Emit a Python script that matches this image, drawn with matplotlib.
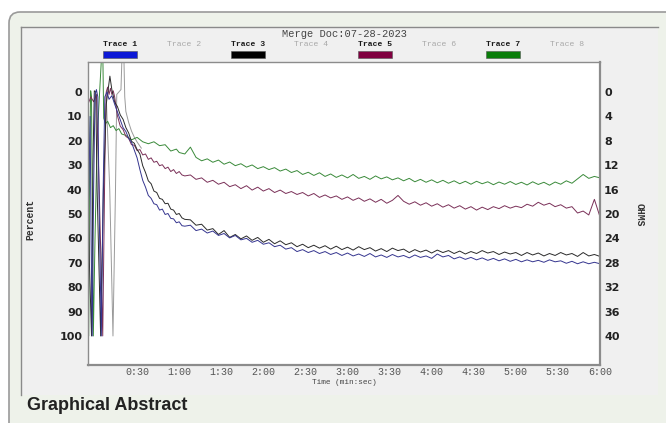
import matplotlib
matplotlib.use("Agg")
import matplotlib.pyplot as plt
from matplotlib.patches import FancyBboxPatch, Rectangle

# ---------------- data (time in seconds, value in Percent) ----------------
late_t = list(range(64, 361, 4))

t_trace1 = [-5, -3.5, -2.8, -2, -1, 0, 1, 2, 3, 4.5, 5.8, 7, 8.5, 10, 12] + list(range(14, 63, 2)) + late_t
v_trace1 = [60, 10, 60, 100, 40, 1, -1, 2, 50, 100, 40, 2, 0, 3, 1.5,
            5.0, 8.2, 11.4, 14.6, 16.2, 19.0, 20.6, 23.8, 27.0, 31.8, 36.2, 39.0, 42.4,
            43.6, 45.8, 46.2, 48.4, 48.0, 50.2, 49.8, 51.8, 52.0, 53.6, 53.2, 54.8,
            55.0, 54.6, 56.8, 56.2, 57.8, 57.0, 58.8, 58.0, 59.8, 58.8,
            60.6, 60.0, 61.6, 60.8, 62.4, 61.8, 63.4, 62.8, 64.4, 63.8,
            65.4, 64.6, 65.8, 65.0, 66.2, 65.4, 66.6, 65.8, 67.0, 66.0,
            67.2, 66.4, 67.4, 66.2, 67.6, 66.8, 67.8, 66.6, 67.6, 67.0,
            68.0, 66.8, 67.8, 67.2, 68.2, 66.4, 67.6, 67.0, 68.4, 67.6,
            68.6, 67.8, 68.8, 68.0, 69.0, 68.2, 69.2, 68.4, 69.4, 68.6,
            69.6, 68.8, 69.6, 69.0, 69.8, 68.8, 69.6, 69.2, 70.2, 69.4,
            70.4, 69.6, 70.4, 69.8, 70.4]

t_trace3 = [-5, -4, -2.5, -1.5, -0.5, 0.5, 1.5, 4, 6, 8, 10.6, 12] + list(range(14, 63, 2)) + late_t
v_trace3 = [30, 70, 100, 30, -0.5, 0, 40, 100, 40, 5, -6.5, -1,
            4.2, 6.0, 9.4, 11.2, 14.6, 16.8, 20.2, 21.0, 23.6, 25.4, 30.2, 33.0, 36.4,
            37.6, 40.6, 41.2, 43.6, 44.0, 45.8, 45.6, 48.0, 48.4, 50.2, 49.8, 51.6,
            52.2, 52.4, 54.6, 54.2, 56.6, 56.0, 58.4, 56.8, 59.6, 58.4,
            60.2, 59.0, 60.8, 59.6, 61.6, 60.4, 62.2, 61.0, 62.6, 61.8,
            63.4, 62.4, 63.8, 62.8, 64.0, 63.0, 64.4, 63.2, 64.6, 63.6,
            64.8, 63.4, 64.6, 63.8, 65.2, 64.2, 65.4, 64.0, 65.0, 64.4,
            65.8, 64.6, 65.6, 64.8, 66.0, 64.8, 65.8, 65.0, 66.2, 65.2,
            66.4, 65.4, 66.2, 65.0, 66.0, 65.4, 66.6, 65.6, 66.4, 65.8,
            67.0, 65.8, 66.8, 66.0, 67.2, 66.2, 67.0, 65.8, 66.8, 66.2,
            67.4, 65.8, 67.2, 66.6, 67.4]

t_trace5 = [-5, -3, -1, 1, 3, 5.5, 7, 8, 9, 10, 11, 12, 13] + list(range(14, 63, 2)) + late_t
v_trace5 = [5, 2, 4, 1, 40, 100, 30, 0, -2, 1, -1.5, 1, -0.5,
            2.0, 9.8, 14.0, 15.4, 18.2, 19.0, 21.6, 21.8, 24.0, 23.6, 25.8, 25.4, 27.6,
            27.0, 28.8, 28.4, 30.2, 29.8, 31.4, 30.8, 32.6, 31.8, 33.4, 32.6, 34.0,
            34.4, 34.0, 35.8, 35.2, 37.0, 36.2, 37.8, 37.0, 38.8, 38.0,
            39.6, 38.4, 40.2, 39.0, 40.6, 39.6, 41.2, 40.2, 41.6, 40.8,
            42.0, 41.2, 42.6, 41.6, 43.2, 42.2, 43.4, 42.6, 44.0, 43.0,
            44.4, 43.4, 44.8, 43.8, 45.2, 44.0, 45.6, 44.4, 42.4, 44.8,
            46.0, 45.0, 46.4, 45.4, 46.8, 45.8, 47.2, 46.2, 47.6, 46.6,
            48.0, 47.0, 48.4, 47.2, 48.2, 47.0, 47.8, 46.6, 47.6, 46.8,
            47.4, 46.0, 46.8, 45.2, 46.4, 45.6, 47.0, 46.2, 47.6, 47.0,
            49.6, 48.8, 50.4, 44.0, 51.2]

t_trace7 = [-5, -4.5, -3.8, -3.1, -2.5, -1.9, -1.2, 0, 1.5, 3, 4.6, 5.6, 6.2, 7.5, 9, 11,
            13, 15, 17, 19, 22, 26, 30, 34, 38, 42, 46, 50, 54, 58, 60] + late_t
v_trace7 = [60, 100, 25, -0.5, 2, 50, 100, 60, 20, 3, -14, -14, 10.7, 13, 12, 14.6,
            13.8, 15.8, 15.0, 17.2, 17.8, 19.6, 18.6, 20.4, 21.2, 20.4, 22.0, 21.6, 24.2, 23.4, 24.8,
            25.4, 22.6, 26.8, 28.2, 27.4, 28.8, 27.9, 29.6, 28.7, 30.2,
            29.4, 30.8, 29.9, 31.4, 30.6, 31.8, 31.0, 32.4, 31.6, 33.0,
            32.2, 33.8, 32.9, 34.2, 33.1, 34.6, 33.6, 35.0, 34.0, 35.2,
            33.8, 35.4, 34.6, 35.8, 34.4, 35.6, 34.8, 36.0, 35.2, 36.4,
            35.4, 36.8, 35.8, 37.0, 36.0, 37.2, 36.2, 37.4, 36.4, 37.6,
            36.6, 37.8, 36.6, 37.6, 36.8, 38.0, 36.9, 37.8, 36.7, 37.9,
            37.0, 38.1, 36.8, 37.9, 37.0, 38.2, 36.9, 37.8, 36.4, 37.4,
            35.6, 33.8, 35.4, 34.6, 35.2]

t_gray = [8, 10.5, 12.8, 14.6, 15.5, 17, 18.5, 19.2, 20.6, 21.2, 22, 24, 26, 28, 30, 33]
v_gray = [2, 40, 100, 40, 1, 0, -1, -14, -14, 2, 8, 12.5, 16, 18.5, 20.5, 23]

trace_names = ["Trace 1", "Trace 2", "Trace 3", "Trace 4", "Trace 5", "Trace 6", "Trace 7", "Trace 8"]
trace_active = [True, False, True, False, True, False, True, False]
trace_swatch = ["#0c18d6", None, "#000000", None, "#800040", None, "#0a7d0a", None]

x_ticks = [30, 60, 90, 120, 150, 180, 210, 240, 270, 300, 330, 360]
x_labels = ["0:30", "1:00", "1:30", "2:00", "2:30", "3:00", "3:30", "4:00", "4:30", "5:00", "5:30", "6:00"]
pct_ticks = [0, 10, 20, 30, 40, 50, 60, 70, 80, 90, 100]
ohm_ticks = [0, 4, 8, 12, 16, 20, 24, 28, 32, 36, 40]

MONO = "Liberation Mono"

# ---------------- figure ----------------
fig = plt.figure(figsize=(6.66, 4.23), dpi=100)
fig.patch.set_facecolor("white")

bg = fig.add_axes([0, 0, 1, 1])
bg.set_xlim(0, 666)
bg.set_ylim(423, 0)
bg.axis("off")
bg.add_patch(FancyBboxPatch((9, 12), 700, 460, boxstyle="round,pad=0,rounding_size=11",
                            fc="#eef2ea", ec="#9a9a9a", lw=1.2))
bg.add_patch(Rectangle((21, 27), 637, 368, fc="#f0f0f0", ec="none"))
bg.plot([21, 658], [27, 27], color="#8a8a8a", lw=1.0)
bg.plot([21, 21], [27, 395], color="#8a8a8a", lw=1.0)

bg.text(345, 34, "Merge Doc:07-28-2023", family=MONO, fontsize=7.5, color="#444444",
        ha="center", va="center")
for i, name in enumerate(trace_names):
    cx = 120 + i * 63.8
    if trace_active[i]:
        bg.text(cx, 45, name, family=MONO, fontsize=5.9, color="#1a1a1a",
                fontweight="bold", ha="center", va="center")
        bg.add_patch(Rectangle((cx - 17, 50.7), 34, 7, fc=trace_swatch[i], ec="#555555", lw=0.4))
    else:
        bg.text(cx, 45, name, family=MONO, fontsize=5.9, color="#a8a8a8",
                ha="center", va="center")

bg.text(30, 219, "Percent", family=MONO, fontsize=7, fontweight="bold", color="#333333",
        rotation=90, ha="center", va="center")
bg.text(640, 215, "OHMS", family=MONO, fontsize=7, fontweight="bold", color="#333333",
        rotation=270, ha="center", va="center")
bg.text(344, 382.5, "Time (min:sec)", family=MONO, fontsize=5.6, color="#444444",
        ha="center", va="center")
bg.text(27, 406, "Graphical Abstract", family="Liberation Sans", fontsize=13,
        fontweight="bold", color="#222222", ha="left", va="center")

# main plot
ax = fig.add_axes([88 / 666, 1 - 365 / 423, 512 / 666, 303 / 423])
ax.set_facecolor("white")
ax.plot(t_gray, v_gray, color="#9a9a9a", lw=0.7)
ax.plot(t_trace7, v_trace7, color="#3a8a3a", lw=0.7)
ax.plot(t_trace5, v_trace5, color="#7a3058", lw=0.7)
ax.plot(t_trace3, v_trace3, color="#2a2a2a", lw=0.7)
ax.plot(t_trace1, v_trace1, color="#35358f", lw=0.7)

ax.set_xlim(-5, 360)
ax.set_ylim(111.9, -12.3)
ax.set_xticks(x_ticks)
ax.set_xticklabels(x_labels, family=MONO, fontsize=7.2, color="#555555")
ax.set_yticks(pct_ticks)
ax.set_yticklabels([str(v) for v in pct_ticks], family="DejaVu Sans", fontsize=8,
                   fontweight="bold", color="#222222")
ax.tick_params(axis="both", length=0)
ax.tick_params(axis="x", pad=1.2)
ax.tick_params(axis="y", pad=4)
for side, sp in ax.spines.items():
    sp.set_color("#8c8c8c")
    sp.set_linewidth(1.0 if side in ("top", "left") else 1.6)

ax2 = ax.twinx()
ax2.set_ylim(111.9 * 0.4, -12.3 * 0.4)
ax2.set_yticks(ohm_ticks)
ax2.set_yticklabels([str(v) for v in ohm_ticks], family="DejaVu Sans", fontsize=8,
                    fontweight="bold", color="#222222")
ax2.tick_params(axis="y", length=0, pad=3)
for sp in ax2.spines.values():
    sp.set_visible(False)

fig.savefig("out.png", dpi=100)
